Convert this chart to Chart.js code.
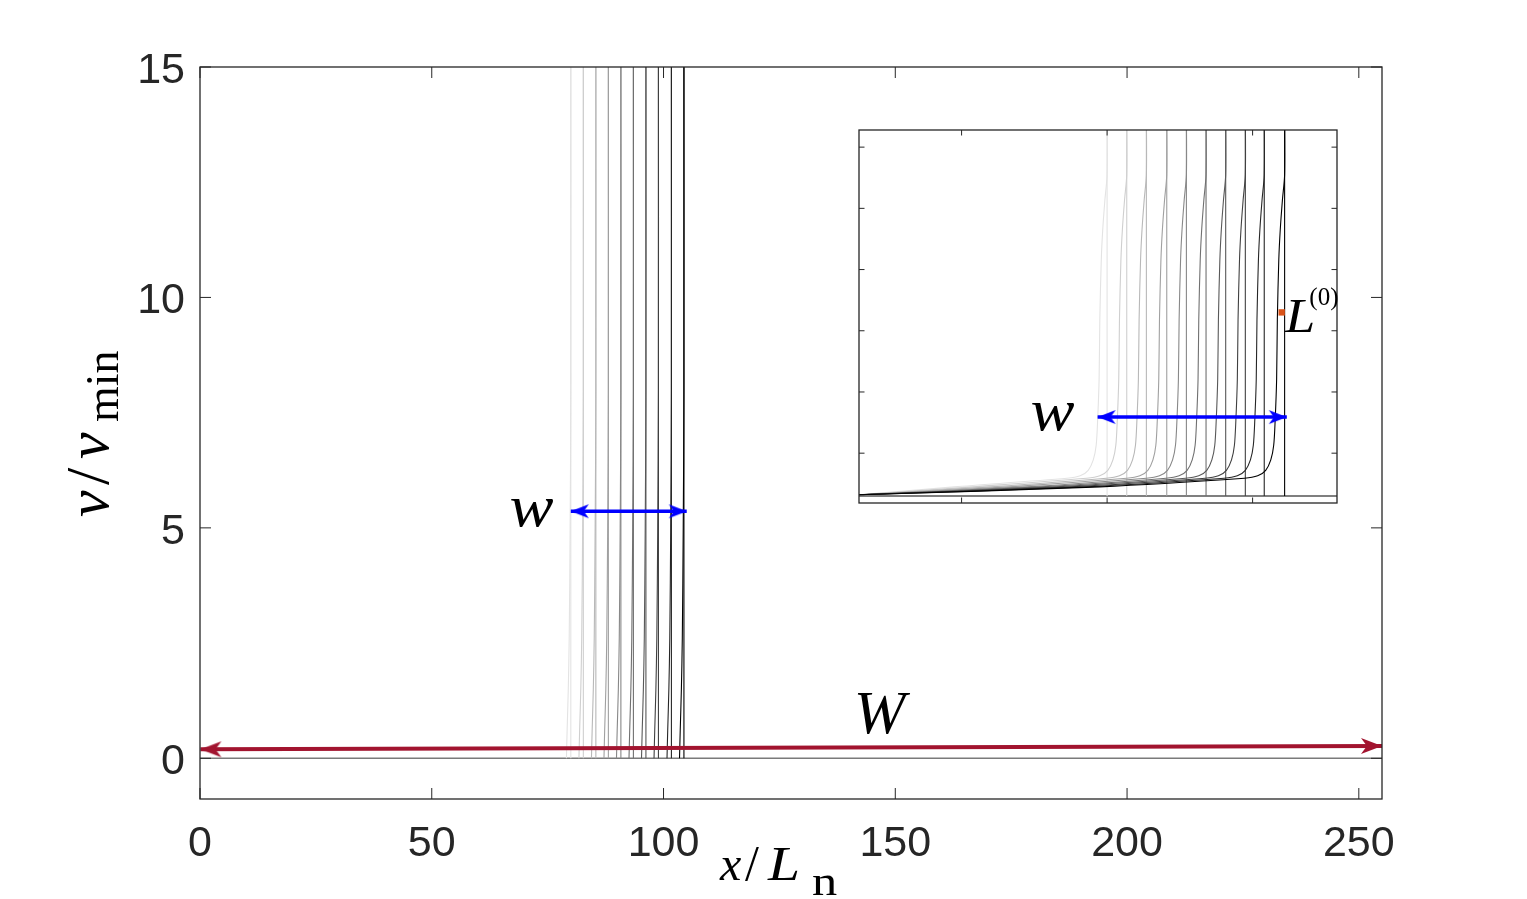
<!DOCTYPE html>
<html>
<head>
<meta charset="utf-8">
<script src="https://cdn.jsdelivr.net/npm/chart.js@4.4.1/dist/chart.umd.min.js"></script>
<style>
  html, body { margin: 0; padding: 0; background: #ffffff; }
  #wrap { position: relative; width: 1527px; height: 899px; }
  #mainChart { position: absolute; left: 0; top: 0; }
  #insetChart { position: absolute; left: 849px; top: 120px; }
</style>
</head>
<body>
<div id="wrap">
  <canvas id="mainChart" width="1527" height="899"></canvas>
  <canvas id="insetChart" width="498" height="393"></canvas>
</div>
<script>
// ---- values ----
const xTicks = [0, 50, 100, 150, 200, 250];
const yTicks = [0, 5, 10, 15];
const insetXTicks = [60, 80, 100];
const insetYTicks = [0.7, 1.7, 2.7, 3.7, 4.7, 5.7];

// grey level of each of the 10 profiles (light = early, black = late)
const lineGrays = ['#e3e3e3', '#cfcfcf', '#b8b8b8', '#a0a0a0', '#888888', '#707070', '#585858', '#404040', '#262626', '#000000'];

// main axes: position of each front (vertical line) and the bent profile next to it
const mainFronts = [80.0, 82.7, 85.4, 88.1, 90.8, 93.5, 96.2, 98.9, 101.7, 104.4];
const mainCurveY = [0, 0.6, 1.5, 2.6, 5, 8, 15.5];
const mainCurvesX = [
  [79.05, 79.2, 79.45, 79.65, 79.85, 80.0, 80.0],
  [81.75, 81.9, 82.15, 82.35, 82.55, 82.7, 82.7],
  [84.45, 84.6, 84.85, 85.05, 85.25, 85.4, 85.4],
  [87.15, 87.3, 87.55, 87.75, 87.95, 88.1, 88.1],
  [89.85, 90.0, 90.25, 90.45, 90.65, 90.8, 90.8],
  [92.55, 92.7, 92.95, 93.15, 93.35, 93.5, 93.5],
  [95.25, 95.4, 95.65, 95.85, 96.05, 96.2, 96.2],
  [97.95, 98.1, 98.35, 98.55, 98.75, 98.9, 98.9],
  [100.75, 100.9, 101.15, 101.35, 101.55, 101.7, 101.7],
  [103.45, 103.6, 103.85, 104.05, 104.25, 104.4, 104.4]
];

// inset: zoom on the foot of the profiles
const insetFronts = [80.0, 82.7, 85.4, 88.2, 90.9, 93.6, 96.3, 99.0, 101.6, 104.4];
const insetCurveY = [0.02, 0.15, 0.29, 0.33, 0.42, 0.59, 0.83, 1.24, 1.90, 2.88, 3.86, 4.35, 4.84, 5.25, 6.3];
const insetCurvesX = [
  [45.9, 59.0, 74.5, 76.3, 77.4, 78.1, 78.5, 78.7, 78.9, 79.0, 79.2, 79.4, 79.7, 80.0, 80.0],
  [45.9, 61.5, 77.2, 79.0, 80.1, 80.8, 81.2, 81.4, 81.6, 81.7, 81.9, 82.1, 82.4, 82.7, 82.7],
  [45.9, 64.0, 79.9, 81.7, 82.8, 83.5, 83.9, 84.1, 84.3, 84.4, 84.6, 84.8, 85.1, 85.4, 85.4],
  [45.9, 66.5, 82.7, 84.5, 85.6, 86.3, 86.7, 86.9, 87.1, 87.2, 87.4, 87.6, 87.9, 88.2, 88.2],
  [45.9, 69.0, 85.4, 87.2, 88.3, 89.0, 89.4, 89.6, 89.8, 89.9, 90.1, 90.3, 90.6, 90.9, 90.9],
  [45.9, 71.0, 88.1, 89.9, 91.0, 91.7, 92.1, 92.3, 92.5, 92.6, 92.8, 93.0, 93.3, 93.6, 93.6],
  [45.9, 73.0, 90.8, 92.6, 93.7, 94.4, 94.8, 95.0, 95.2, 95.3, 95.5, 95.7, 96.0, 96.3, 96.3],
  [45.9, 75.0, 93.5, 95.3, 96.4, 97.1, 97.5, 97.7, 97.9, 98.0, 98.2, 98.4, 98.7, 99.0, 99.0],
  [45.9, 77.0, 96.1, 97.9, 99.0, 99.7, 100.1, 100.3, 100.5, 100.6, 100.8, 101.0, 101.3, 101.6, 101.6],
  [45.9, 79.0, 98.9, 100.7, 101.8, 102.5, 102.9, 103.1, 103.3, 103.4, 103.6, 103.8, 104.1, 104.4, 104.4]
];

// arrows and marker
const wArrowX = [80.0, 105.0];
const wArrowY = [5.36, 5.36];
const bigWArrowX = [0.1, 255];
const bigWArrowY = [0.195, 0.267];
const insetWArrowX = [78.7, 104.7];
const insetWArrowY = [1.29, 1.29];
const l0Marker = { x: 104.0, y: 3.0 };

const BLUE = '#0000ff';
const RED = '#a2142f';
const ORANGE = '#d95319';
const AXIS = '#262626';

// arrow head drawn into a small canvas, used as point style (tip sits at the point)
function makeHead(color, len, half) {
  const c = document.createElement('canvas');
  c.width = Math.ceil(len * 2 + 2);
  c.height = Math.ceil(half * 2 + 2);
  const g = c.getContext('2d');
  const cx = c.width / 2, cy = c.height / 2;
  g.fillStyle = color;
  g.beginPath();
  g.moveTo(cx, cy);
  g.lineTo(cx - len, cy - half);
  g.lineTo(cx - len * 0.72, cy);
  g.lineTo(cx - len, cy + half);
  g.closePath();
  g.fill();
  return c;
}
const blueHead = makeHead(BLUE, 18, 7);
const redHead = makeHead(RED, 21, 8);

function pts(xs, ys) {
  return xs.map((v, i) => ({ x: v, y: ys[i] }));
}

function lineSet(data, color, width) {
  return {
    data: data, showLine: true, borderColor: color, borderWidth: width,
    pointRadius: 0, tension: 0.3, fill: false
  };
}

function arrowSet(data, color, width, head) {
  return {
    data: data, showLine: true, borderColor: color, borderWidth: width,
    pointStyle: head, pointRotation: [180, 0], pointRadius: 1,
    tension: 0, fill: false, clip: false
  };
}

// text runs relative to an anchor; sx stretches a glyph sideways (TeX fonts are wide)
function drawRuns(ctx, list, x0, y0) {
  list.forEach(r => {
    ctx.save();
    ctx.translate(x0 + r.dx, y0 + (r.dy || 0));
    ctx.scale(r.sx || 1, 1);
    ctx.font = r.f;
    ctx.fillText(r.t, 0, 0);
    ctx.restore();
  });
}

// ---- main chart ----
const mainSets = [];
mainSets.push(lineSet([{ x: 0, y: 0 }, { x: 255, y: 0 }], '#7a7a7a', 1.4));
mainCurvesX.forEach((xs, i) => {
  mainSets.push(lineSet(pts(xs, mainCurveY), lineGrays[i], 1.1));
  mainSets.push(lineSet([{ x: mainFronts[i], y: 0 }, { x: mainFronts[i], y: 15.5 }], lineGrays[i], 1.1));
});
mainSets.push(arrowSet(pts(bigWArrowX, bigWArrowY), RED, 4, redHead));
mainSets.push(arrowSet(pts(wArrowX, wArrowY), BLUE, 3.5, blueHead));
mainSets.reverse(); // first dataset ends up on top

const mainDecor = {
  id: 'mainDecor',
  afterDatasetsDraw(chart) {
    const { ctx, chartArea: a, scales: { x, y } } = chart;
    ctx.save();
    ctx.strokeStyle = AXIS;
    ctx.lineWidth = 1;
    ctx.beginPath();
    xTicks.forEach(v => {
      const px = x.getPixelForValue(v);
      ctx.moveTo(px, a.bottom); ctx.lineTo(px, a.bottom - 11);
      ctx.moveTo(px, a.top); ctx.lineTo(px, a.top + 11);
    });
    yTicks.forEach(v => {
      const py = y.getPixelForValue(v);
      ctx.moveTo(a.left, py); ctx.lineTo(a.left + 11, py);
      ctx.moveTo(a.right, py); ctx.lineTo(a.right - 11, py);
    });
    ctx.stroke();
    ctx.lineWidth = 1.3;
    ctx.strokeRect(a.left, a.top, a.right - a.left, a.bottom - a.top);

    ctx.fillStyle = '#000000';
    ctx.textBaseline = 'alphabetic';
    ctx.textAlign = 'center';
    drawRuns(ctx, [{ t: 'w', f: 'italic 60px "Liberation Serif"', dx: 0, sx: 1.1 }],
      x.getPixelForValue(71.5), y.getPixelForValue(5.36) + 15);
    drawRuns(ctx, [{ t: 'W', f: 'italic 62px "Liberation Serif"', dx: 0 }],
      x.getPixelForValue(146.6), y.getPixelForValue(0.55));

    // x-axis title  x/L_n
    ctx.textAlign = 'left';
    drawRuns(ctx, [
      { t: 'x', f: 'italic 48px "Liberation Serif"', dx: 0 },
      { t: '/', f: '50px "Liberation Serif"', dx: 25 },
      { t: 'L', f: 'italic 48px "Liberation Serif"', dx: 48, sx: 1.2 },
      { t: 'n', f: '42px "Liberation Serif"', dx: 92, dy: 15, sx: 1.2 }
    ], 720, 880);

    // y-axis title  v/v_min (rotated)
    ctx.translate(108, 517);
    ctx.rotate(-Math.PI / 2);
    drawRuns(ctx, [
      { t: 'v', f: 'italic 60px "Liberation Serif"', dx: 0 },
      { t: '/', f: '62px "Liberation Serif"', dx: 32 },
      { t: 'v', f: 'italic 60px "Liberation Serif"', dx: 58 },
      { t: 'min', f: '46px "Liberation Serif"', dx: 95, dy: 10 }
    ], 0, 0);
    ctx.restore();
  }
};

new Chart(document.getElementById('mainChart'), {
  type: 'scatter',
  data: { datasets: mainSets },
  options: {
    responsive: false,
    animation: false,
    events: [],
    layout: { padding: { left: 0, top: 67, right: 145, bottom: 0 } },
    plugins: { legend: { display: false }, tooltip: { enabled: false } },
    scales: {
      x: {
        type: 'linear', min: 0, max: 255,
        afterBuildTicks: s => { s.ticks = xTicks.map(v => ({ value: v })); },
        afterFit: s => { s.height = 100; },
        grid: { display: false, drawTicks: false, tickLength: 0 },
        border: { display: false },
        ticks: { font: { family: 'Liberation Sans', size: 43 }, color: AXIS, padding: 19, maxRotation: 0, autoSkip: false }
      },
      y: {
        type: 'linear', min: -0.883, max: 15,
        afterBuildTicks: s => { s.ticks = yTicks.map(v => ({ value: v })); },
        afterFit: s => { s.width = 200; },
        grid: { display: false, drawTicks: false, tickLength: 0 },
        border: { display: false },
        ticks: { font: { family: 'Liberation Sans', size: 43 }, color: AXIS, padding: 15, labelOffset: 4, autoSkip: false }
      }
    }
  },
  plugins: [mainDecor]
});

// ---- inset chart ----
const insetSets = [];
insetSets.push(lineSet([{ x: 40, y: 0 }, { x: 115, y: 0 }], '#555555', 1.3));
insetCurvesX.forEach((xs, i) => {
  insetSets.push(lineSet(pts(xs, insetCurveY), lineGrays[i], 1.1));
  insetSets.push(lineSet([{ x: insetFronts[i], y: 0 }, { x: insetFronts[i], y: 6.3 }], lineGrays[i], 1.1));
});
insetSets.push({
  data: [l0Marker], showLine: false, pointStyle: 'rect', pointRadius: 4.5,
  pointBackgroundColor: ORANGE, pointBorderWidth: 0
});
insetSets.push(arrowSet(pts(insetWArrowX, insetWArrowY), BLUE, 3.5, blueHead));
insetSets.reverse();

const insetDecor = {
  id: 'insetDecor',
  beforeDraw(chart) {
    const { ctx, chartArea: a } = chart;
    ctx.save();
    ctx.fillStyle = '#ffffff';
    ctx.fillRect(a.left, a.top, a.right - a.left, a.bottom - a.top);
    ctx.restore();
  },
  afterDatasetsDraw(chart) {
    const { ctx, chartArea: a, scales: { x, y } } = chart;
    ctx.save();
    ctx.strokeStyle = AXIS;
    ctx.lineWidth = 1;
    ctx.beginPath();
    insetXTicks.forEach(v => {
      const px = x.getPixelForValue(v);
      ctx.moveTo(px, a.bottom); ctx.lineTo(px, a.bottom - 5.5);
      ctx.moveTo(px, a.top); ctx.lineTo(px, a.top + 5.5);
    });
    insetYTicks.forEach(v => {
      const py = y.getPixelForValue(v);
      ctx.moveTo(a.left, py); ctx.lineTo(a.left + 5.5, py);
      ctx.moveTo(a.right, py); ctx.lineTo(a.right - 5.5, py);
    });
    ctx.stroke();
    ctx.lineWidth = 1.3;
    ctx.strokeRect(a.left, a.top, a.right - a.left, a.bottom - a.top);

    ctx.fillStyle = '#000000';
    ctx.textBaseline = 'alphabetic';
    ctx.textAlign = 'center';
    drawRuns(ctx, [{ t: 'w', f: 'italic 60px "Liberation Serif"', dx: 0, sx: 1.1 }],
      x.getPixelForValue(72.5), y.getPixelForValue(1.08));
    ctx.textAlign = 'left';
    drawRuns(ctx, [
      { t: 'L', f: 'italic 49px "Liberation Serif"', dx: 0, sx: 1.1 },
      { t: '(0)', f: '25px "Liberation Serif"', dx: 24, dy: -27 }
    ], x.getPixelForValue(104.5), y.getPixelForValue(2.68));
    ctx.restore();
  }
};

new Chart(document.getElementById('insetChart'), {
  type: 'scatter',
  data: { datasets: insetSets },
  options: {
    responsive: false,
    animation: false,
    events: [],
    layout: { padding: 10 },
    plugins: { legend: { display: false }, tooltip: { enabled: false } },
    scales: {
      x: { type: 'linear', min: 45.9, max: 111.6, display: false },
      y: { type: 'linear', min: -0.114, max: 5.98, display: false }
    }
  },
  plugins: [insetDecor]
});
</script>
</body>
</html>
